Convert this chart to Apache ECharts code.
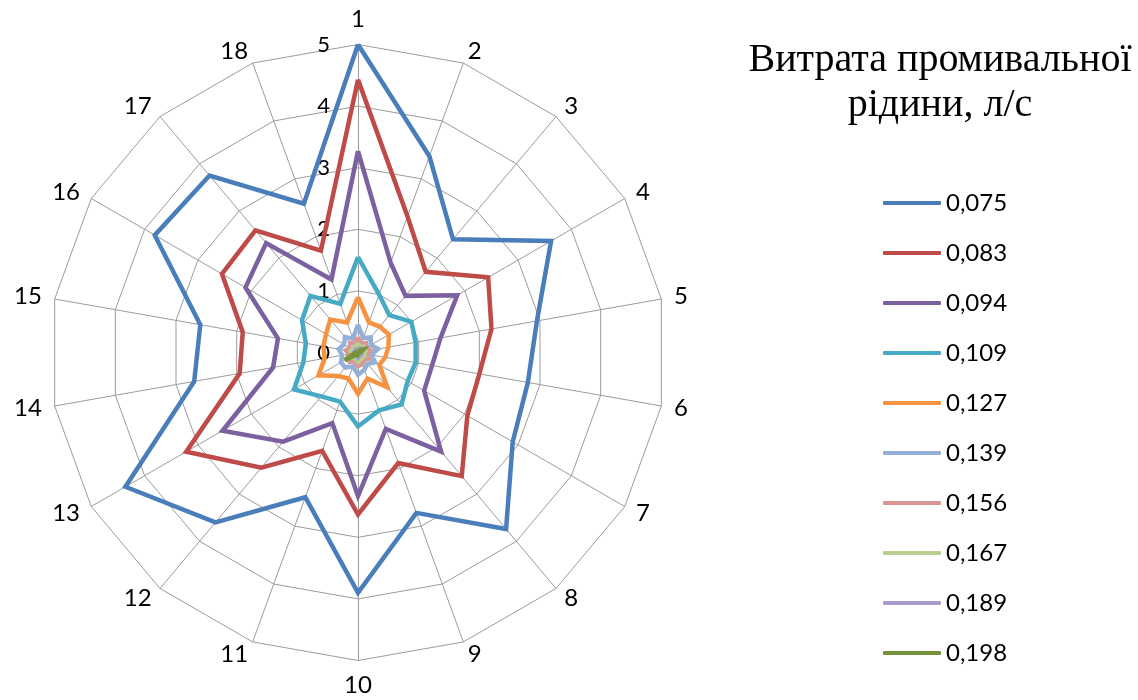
<!DOCTYPE html>
<html>
<head>
<meta charset="utf-8">
<script src="https://cdn.jsdelivr.net/npm/echarts@6/dist/echarts.min.js"></script>
<style>
  html, body { margin: 0; padding: 0; background: #ffffff; }
  #chart { width: 1138px; height: 700px; }
</style>
</head>
<body>
<div id="chart"></div>
<script>
// Spokes of the diagram, numbered clockwise from the top
const categories = ['1','2','3','4','5','6','7','8','9','10','11','12','13','14','15','16','17','18'];
const scaleMax = 5;

// Flow rate of the washing liquid, l/s (legend entries)
const flowRates = ['0,075','0,083','0,094','0,109','0,127','0,139','0,156','0,167','0,189','0,198'];

// Values per spoke for each flow rate
const q0075 = [5.0, 3.39, 2.4, 3.62, 2.95, 2.8, 2.9, 3.74, 2.77, 3.9, 2.5, 3.6, 4.36, 2.7, 2.6, 3.81, 3.75, 2.57];
const q0083 = [4.43, 2.35, 1.71, 2.44, 2.2, 2.0, 2.05, 2.62, 1.91, 2.63, 1.7, 2.44, 3.22, 1.95, 1.9, 2.55, 2.59, 1.76];
const q0094 = [3.27, 1.55, 1.2, 1.86, 1.36, 1.22, 1.24, 2.1, 1.32, 2.33, 1.22, 1.89, 2.54, 1.4, 1.32, 2.11, 2.32, 1.26];
const q0109 = [1.55, 1.0, 0.79, 1.0, 0.95, 0.95, 0.93, 1.1, 1.0, 1.2, 0.85, 0.93, 1.2, 0.9, 0.86, 1.05, 1.2, 0.84];
const q0127 = [0.9, 0.52, 0.55, 0.58, 0.5, 0.45, 0.4, 0.74, 0.45, 0.67, 0.45, 0.5, 0.74, 0.55, 0.57, 0.6, 0.7, 0.52];
const q0139 = [0.45, 0.25, 0.32, 0.24, 0.33, 0.22, 0.32, 0.24, 0.3, 0.36, 0.24, 0.32, 0.32, 0.26, 0.32, 0.26, 0.33, 0.24];
const q0156 = [0.25, 0.15, 0.2, 0.15, 0.2, 0.15, 0.2, 0.15, 0.2, 0.22, 0.15, 0.2, 0.2, 0.15, 0.2, 0.15, 0.2, 0.15];
const q0167 = [0.15, 0.1, 0.12, 0.1, 0.12, 0.1, 0.12, 0.1, 0.12, 0.15, 0.1, 0.12, 0.15, 0.1, 0.12, 0.1, 0.12, 0.1];
const q0189 = [0.08, 0.06, 0.08, 0.1, 0.06, 0.05, 0.06, 0.05, 0.06, 0.08, 0.05, 0.06, 0.08, 0.05, 0.06, 0.05, 0.06, 0.05];
const q0198 = [0.03, 0.03, 0.05, 0.1, 0.05, 0.02, 0.02, 0.02, 0.02, 0.03, 0.02, 0.05, 0.25, 0.05, 0.02, 0.02, 0.02, 0.02];

const allValues = [q0075, q0083, q0094, q0109, q0127, q0139, q0156, q0167, q0189, q0198];
const lineColors = ['#4A7EBB', '#BE4B48', '#7D60A0', '#46AAC5', '#F69240',
                    '#94B0D8', '#D99694', '#B8D08F', '#A99BC7', '#77933C'];

// ECharts lays radar spokes out counter-clockwise; walk the spokes in
// reverse (keeping spoke 1 on top) so they read clockwise.
const spokeOrder = [0].concat(categories.slice(1).map((_, i) => categories.length - 1 - i));

const labelFont = 'Lato, "Open Sans", sans-serif';

const indicators = spokeOrder.map((k, i) => {
  const ind = { name: categories[k], min: 0, max: scaleMax };
  if (i === 0) {
    ind.axisLabel = {
      show: true,
      color: '#000',
      fontSize: 22,
      fontFamily: labelFont,
      margin: 28,
      padding: [14, 0, 0, 0]
    };
  }
  return ind;
});

const chart = echarts.init(document.getElementById('chart'), null, { renderer: 'canvas' });

chart.setOption({
  backgroundColor: '#ffffff',
  animation: false,
  title: {
    text: 'Витрата промивальної\nрідини, л/с',
    left: 935,
    top: 33,
    textAlign: 'center',
    textStyle: {
      fontFamily: '"Liberation Serif", "DejaVu Serif", serif',
      fontWeight: 'normal',
      fontSize: 40,
      lineHeight: 45,
      color: '#000'
    }
  },
  legend: {
    orient: 'vertical',
    left: 878,
    top: 186,
    itemWidth: 58,
    itemHeight: 4,
    itemGap: 26,
    icon: 'roundRect',
    data: flowRates,
    textStyle: {
      fontFamily: labelFont,
      fontSize: 24,
      color: '#000'
    }
  },
  radar: {
    center: [358, 352.5],
    radius: 308,
    startAngle: 90,
    shape: 'polygon',
    splitNumber: 5,
    indicator: indicators,
    axisName: {
      color: '#000',
      fontSize: 24,
      fontFamily: labelFont
    },
    nameGap: 13,
    axisLine: { lineStyle: { color: '#9c9c9c', width: 1 } },
    splitLine: { lineStyle: { color: '#9c9c9c', width: 1 } },
    splitArea: { show: false },
    axisTick: { show: false },
    axisLabel: { show: false }
  },
  series: [{
    type: 'radar',
    symbol: 'none',
    data: allValues.map((vals, s) => ({
      name: flowRates[s],
      value: spokeOrder.map(k => vals[k]),
      itemStyle: { color: lineColors[s] },
      lineStyle: { color: lineColors[s], width: 4.5, join: 'miter' }
    }))
  }]
});
</script>
</body>
</html>
